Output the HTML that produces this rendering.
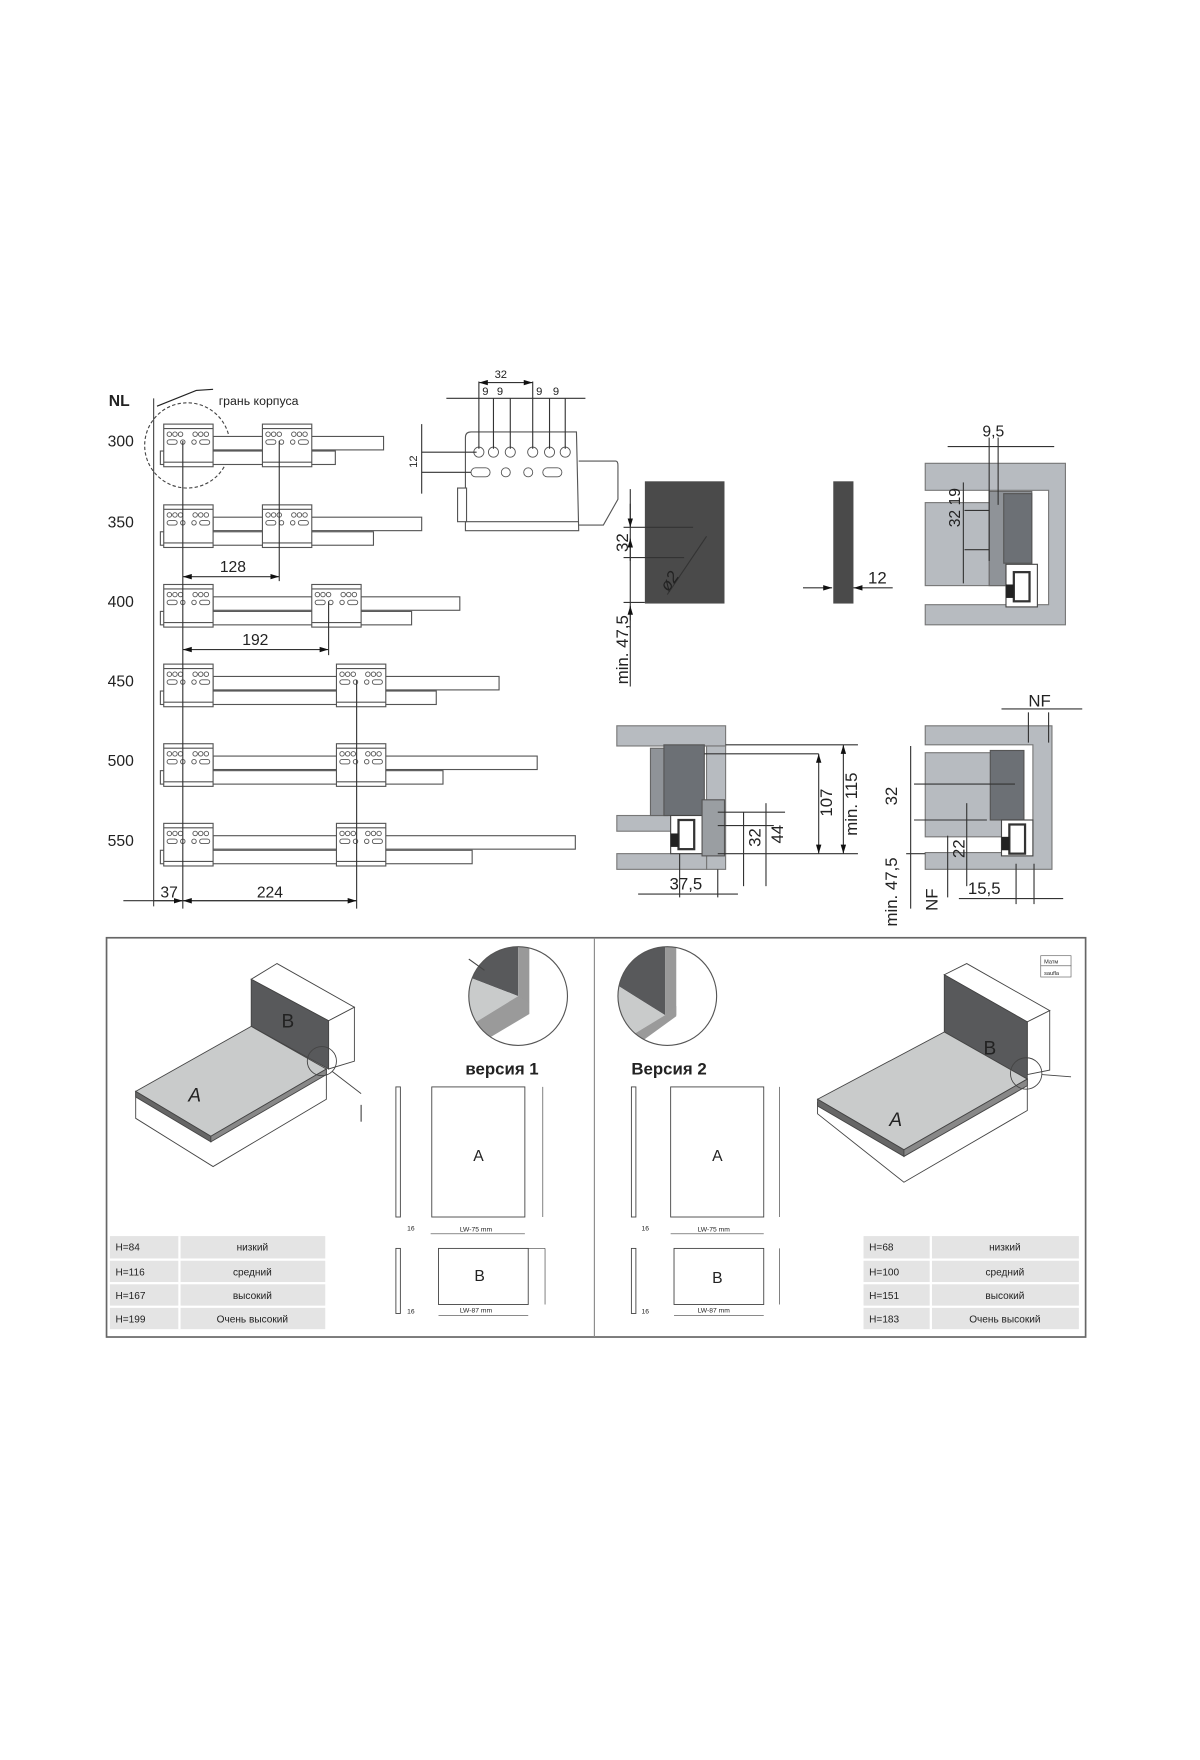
<!DOCTYPE html>
<html><head><meta charset="utf-8"><style>
html,body{margin:0;padding:0;background:#fff;width:1200px;height:1760px;overflow:hidden}
svg{display:block}
text{font-family:"Liberation Sans","DejaVu Sans",sans-serif;fill:#222}
</style></head><body>
<svg width="1200" height="1760" viewBox="0 0 1070 1569" xmlns="http://www.w3.org/2000/svg">
<defs>
<marker id="ar" viewBox="0 0 10 6" refX="10" refY="3" markerWidth="8" markerHeight="5" orient="auto-start-reverse"><path d="M0,0L10,3L0,6z" fill="#111"/></marker>
<clipPath id="c1"><circle cx="462" cy="888" r="44"/></clipPath>
<clipPath id="c2"><circle cx="595" cy="888" r="44"/></clipPath>
<g id="br">
<rect x="0" y="0" width="44" height="38" fill="#fff" stroke="#555" stroke-width="1"/>
<line x1="0" y1="4" x2="44" y2="4" stroke="#555"/>
<circle cx="5" cy="9" r="2" fill="none" stroke="#555" stroke-width=".8"/><circle cx="10" cy="9" r="2" fill="none" stroke="#555" stroke-width=".8"/><circle cx="15" cy="9" r="2" fill="none" stroke="#555" stroke-width=".8"/>
<circle cx="28" cy="9" r="2" fill="none" stroke="#555" stroke-width=".8"/><circle cx="33" cy="9" r="2" fill="none" stroke="#555" stroke-width=".8"/><circle cx="38" cy="9" r="2" fill="none" stroke="#555" stroke-width=".8"/>
<rect x="3" y="14" width="9" height="4" rx="2" fill="none" stroke="#555" stroke-width=".8"/><circle cx="17" cy="16" r="2" fill="none" stroke="#555" stroke-width=".8"/><circle cx="27" cy="16" r="2" fill="none" stroke="#555" stroke-width=".8"/><rect x="32" y="14" width="9" height="4" rx="2" fill="none" stroke="#555" stroke-width=".8"/>
<line x1="0" y1="34" x2="44" y2="34" stroke="#555"/>
</g>
</defs>

<!-- LEFT RAIL DIAGRAM -->
<text x="97" y="362" font-size="14" font-weight="bold">NL</text>
<text x="195" y="361" font-size="11">грань корпуса</text>
<path d="M140,362 L175,348 L190,347" fill="none" stroke="#222"/>
<line x1="137" y1="355" x2="137" y2="808" stroke="#444"/>
<circle cx="167" cy="397" r="38" fill="none" stroke="#444" stroke-dasharray="3,2"/>
<g font-size="14">
<text x="96" y="398">300</text><text x="96" y="470">350</text><text x="96" y="541">400</text>
<text x="96" y="612">450</text><text x="96" y="683">500</text><text x="96" y="754">550</text>
</g>
<g stroke="#555" fill="#fff">
<rect x="190" y="389" width="152" height="12"/><rect x="143" y="402" width="156" height="12"/>
<use href="#br" x="146" y="378"/><use href="#br" x="234" y="378"/>
<rect x="190" y="461" width="186" height="12"/><rect x="143" y="474" width="190" height="12"/>
<use href="#br" x="146" y="450"/><use href="#br" x="234" y="450"/>
<rect x="190" y="532" width="220" height="12"/><rect x="143" y="545" width="224" height="12"/>
<use href="#br" x="146" y="521"/><use href="#br" x="278" y="521"/>
<rect x="190" y="603" width="255" height="12"/><rect x="143" y="616" width="246" height="12"/>
<use href="#br" x="146" y="592"/><use href="#br" x="300" y="592"/>
<rect x="190" y="674" width="289" height="12"/><rect x="143" y="687" width="252" height="12"/>
<use href="#br" x="146" y="663"/><use href="#br" x="300" y="663"/>
<rect x="190" y="745" width="323" height="12"/><rect x="143" y="758" width="278" height="12"/>
<use href="#br" x="146" y="734"/><use href="#br" x="300" y="734"/>
</g>
<g stroke="#333">
<line x1="163" y1="393" x2="163" y2="810"/>
<line x1="249" y1="393" x2="249" y2="518"/>
<line x1="293" y1="536" x2="293" y2="584"/>
<line x1="318" y1="606" x2="318" y2="810"/>
<line x1="163" y1="514" x2="249" y2="514" marker-start="url(#ar)" marker-end="url(#ar)"/>
<line x1="163" y1="579" x2="293" y2="579" marker-start="url(#ar)" marker-end="url(#ar)"/>
<line x1="110" y1="803" x2="318" y2="803"/>
<line x1="137" y1="803" x2="163" y2="803" marker-end="url(#ar)"/>
<line x1="163" y1="803" x2="318" y2="803" marker-start="url(#ar)" marker-end="url(#ar)"/>
</g>
<g font-size="14"><text x="196" y="510">128</text><text x="216" y="575">192</text><text x="143" y="800">37</text><text x="229" y="800">224</text></g>

<!-- SMALL BRACKET -->
<g stroke="#555" fill="#fff">
<path d="M516,411 L549,411 Q551,411 551,415 L551,445 L538,468 L516,468"/>
<path d="M415,390 Q415,385 420,385 L514,385 L516,473 L415,473 Z"/>
<rect x="408" y="435" width="8" height="30"/>
<line x1="415" y1="465" x2="516" y2="465"/>
<g stroke-width=".8" fill="none">
<circle cx="427" cy="403" r="4.5"/><circle cx="440" cy="403" r="4.5"/><circle cx="455" cy="403" r="4.5"/><circle cx="475" cy="403" r="4.5"/><circle cx="490" cy="403" r="4.5"/><circle cx="504" cy="403" r="4.5"/>
<rect x="420" y="417" width="17" height="8" rx="4"/><circle cx="451" cy="421" r="4"/><circle cx="471" cy="421" r="4"/><rect x="484" y="417" width="17" height="8" rx="4"/>
</g>
</g>
<g stroke="#333" fill="none">
<line x1="427" y1="340" x2="427" y2="400"/><line x1="440" y1="355" x2="440" y2="400"/><line x1="455" y1="355" x2="455" y2="400"/>
<line x1="475" y1="340" x2="475" y2="400"/><line x1="490" y1="355" x2="490" y2="400"/><line x1="504" y1="355" x2="504" y2="400"/>
<line x1="427" y1="341" x2="475" y2="341" marker-start="url(#ar)" marker-end="url(#ar)"/>
<line x1="398" y1="355" x2="522" y2="355"/>
<line x1="376" y1="403" x2="425" y2="403"/><line x1="376" y1="421" x2="420" y2="421"/>
<line x1="376" y1="378" x2="376" y2="440"/>
</g>
<g font-size="10"><text x="441" y="337">32</text><text x="430" y="352">9</text><text x="443" y="352">9</text><text x="478" y="352">9</text><text x="493" y="352">9</text></g>
<text x="372" y="417" font-size="10" transform="rotate(-90 372 417)">12</text>

<!-- DARK PANEL -->
<rect x="575" y="429" width="71" height="109" fill="#4a4a4a"/>
<rect x="743" y="429" width="18" height="109" fill="#4a4a4a"/>
<g stroke="#333" fill="none">
<line x1="562" y1="436" x2="562" y2="612"/>
<line x1="562" y1="449" x2="562" y2="470" marker-end="url(#ar)"/><line x1="562" y1="500" x2="562" y2="480" marker-end="url(#ar)"/>
<line x1="562" y1="553" x2="562" y2="540" marker-end="url(#ar)"/>
<line x1="556" y1="470" x2="618" y2="470"/><line x1="556" y1="497" x2="610" y2="497"/><line x1="556" y1="537" x2="575" y2="537"/>
<line x1="595" y1="530" x2="630" y2="478"/>
<line x1="716" y1="524" x2="742" y2="524" marker-end="url(#ar)"/><line x1="796" y1="524" x2="761" y2="524" marker-end="url(#ar)"/>
</g>
<g font-size="15">
<text x="560" y="492" transform="rotate(-90 560 492)">32</text>
<text x="560" y="610" transform="rotate(-90 560 610)">min. 47,5</text>
<text x="596" y="528" transform="rotate(-55 596 528)" font-style="italic">ø2</text>
<text x="774" y="520">12</text>
</g>

<!-- RIGHT TOP SECTION -->
<g fill="#b7bbc0" stroke="#777">
<path d="M825,413 L950,413 L950,557 L825,557 L825,539 L935,539 L935,437 L825,437 Z"/>
<rect x="825" y="448" width="92" height="74"/>
</g>
<rect x="882" y="438" width="38" height="84" fill="#8f9398" stroke="#666"/>
<rect x="895" y="440" width="25" height="62" fill="#6c7075" stroke="#555"/>
<rect x="897" y="503" width="28" height="38" fill="#fff" stroke="#444"/>
<rect x="904" y="510" width="14" height="26" fill="none" stroke="#333" stroke-width="2"/>
<rect x="897" y="521" width="7" height="12" fill="#222"/>
<g stroke="#333" fill="none">
<line x1="845" y1="398" x2="940" y2="398"/><line x1="882" y1="390" x2="882" y2="500"/><line x1="890" y1="390" x2="890" y2="450"/>
<line x1="860" y1="455" x2="882" y2="455"/><line x1="860" y1="490" x2="882" y2="490"/>
<line x1="859" y1="430" x2="859" y2="520"/>
</g>
<g font-size="14"><text x="876" y="389">9,5</text>
<text x="856" y="470" transform="rotate(-90 856 470)">32 19</text></g>

<!-- LOWER LEFT SECTION -->
<g fill="#b7bbc0" stroke="#777">
<rect x="550" y="647" width="97" height="18"/>
<rect x="630" y="665" width="17" height="110"/>
<rect x="550" y="727" width="51" height="14"/>
<rect x="550" y="761" width="80" height="14"/>
</g>
<rect x="580" y="667" width="15" height="60" fill="#8f9398" stroke="#666"/>
<rect x="592" y="664" width="36" height="63" fill="#6c7075" stroke="#555"/>
<rect x="598" y="727" width="28" height="34" fill="#fff" stroke="#444"/>
<rect x="605" y="731" width="14" height="26" fill="none" stroke="#333" stroke-width="2"/>
<rect x="598" y="743" width="7" height="12" fill="#222"/>
<rect x="626" y="713" width="20" height="50" fill="#9a9ea2" stroke="#555"/>
<g stroke="#333" fill="none">
<line x1="647" y1="664" x2="765" y2="664"/><line x1="628" y1="672" x2="730" y2="672"/><line x1="640" y1="761" x2="765" y2="761"/>
<line x1="640" y1="736" x2="690" y2="736"/><line x1="640" y1="724" x2="700" y2="724"/>
<line x1="752" y1="664" x2="752" y2="761" marker-start="url(#ar)" marker-end="url(#ar)"/>
<line x1="730" y1="672" x2="730" y2="761" marker-start="url(#ar)" marker-end="url(#ar)"/>
<line x1="683" y1="716" x2="683" y2="790"/><line x1="663" y1="724" x2="663" y2="790"/>
<line x1="569" y1="797" x2="658" y2="797"/><line x1="606" y1="761" x2="606" y2="800"/><line x1="640" y1="775" x2="640" y2="800"/>
</g>
<g font-size="15">
<text x="764" y="745" transform="rotate(-90 764 745)">min. 115</text>
<text x="742" y="728" transform="rotate(-90 742 728)">107</text>
<text x="698" y="752" transform="rotate(-90 698 752)">44</text>
<text x="678" y="755" transform="rotate(-90 678 755)">32</text>
<text x="597" y="793">37,5</text>
</g>

<!-- LOWER RIGHT SECTION -->
<g fill="#b7bbc0" stroke="#777">
<path d="M825,647 L938,647 L938,775 L825,775 L825,760 L921,760 L921,664 L825,664 Z"/>
<rect x="825" y="671" width="85" height="75"/>
</g>
<rect x="883" y="669" width="30" height="62" fill="#6c7075" stroke="#555"/>
<rect x="893" y="731" width="28" height="32" fill="#fff" stroke="#444"/>
<rect x="900" y="735" width="14" height="26" fill="none" stroke="#333" stroke-width="2"/>
<rect x="893" y="746" width="7" height="12" fill="#222"/>
<g stroke="#333" fill="none">
<line x1="893" y1="632" x2="965" y2="632"/><line x1="917" y1="635" x2="917" y2="662"/><line x1="935" y1="635" x2="935" y2="662"/>
<line x1="815" y1="699" x2="905" y2="699"/><line x1="815" y1="731" x2="880" y2="731"/><line x1="808" y1="761" x2="825" y2="761"/>
<line x1="812" y1="665" x2="812" y2="810"/><line x1="845" y1="745" x2="845" y2="800"/><line x1="862" y1="716" x2="862" y2="790"/>
<line x1="855" y1="801" x2="948" y2="801"/><line x1="906" y1="770" x2="906" y2="806"/><line x1="922" y1="770" x2="922" y2="806"/>
</g>
<g font-size="15">
<text x="917" y="630">NF</text>
<text x="800" y="718" transform="rotate(-90 800 718)">32</text>
<text x="860" y="765" transform="rotate(-90 860 765)">22</text>
<text x="800" y="826" transform="rotate(-90 800 826)">min. 47,5</text>
<text x="836" y="812" transform="rotate(-90 836 812)">NF</text>
<text x="863" y="797">15,5</text>
</g>

<!-- BOTTOM FRAME -->
<rect x="95" y="836" width="873" height="356" fill="#fff" stroke="#666" stroke-width="1.5"/>
<line x1="530" y1="836" x2="530" y2="1192" stroke="#888"/>

<g stroke="#444" stroke-width=".8">
<polygon points="224,873 247,859 316,898 293,910" fill="#fff"/>
<polygon points="293,910 316,898 316,946 293,953" fill="#fff"/>
<polygon points="224,873 293,910 293,953 224,915" fill="#58595b"/>
<polygon points="121,997 190,1040 291,980 291,953 188,1013 121,973" fill="#fff"/>
<polygon points="121,973 224,915 291,953 188,1013" fill="#c9cbcb"/>
<polygon points="121,973 188,1013 188,1018 121,978" fill="#666"/>
<polygon points="188,1013 291,953 291,958 188,1018" fill="#888"/>
</g>
<circle cx="287" cy="946" r="13" fill="none" stroke="#444" stroke-width=".8"/>
<line x1="296" y1="955" x2="322" y2="975" stroke="#444" stroke-width=".8"/>
<line x1="322" y1="985" x2="322" y2="1000" stroke="#444"/>
<text x="251" y="916" font-size="17">B</text><text x="168" y="982" font-size="17" font-style="italic">A</text>

<g clip-path="url(#c1)">
<rect x="410" y="840" width="110" height="100" fill="#fff"/>
<polygon points="410,840 462,840 462,888 410,868" fill="#58595b"/>
<rect x="462" y="840" width="10" height="54" fill="#999"/>
<polygon points="410,868 462,888 410,920" fill="#c9cbcb"/>
<polygon points="410,920 462,888 472,894 472,904 425,932 410,940" fill="#9a9a9a"/>
</g>
<circle cx="462" cy="888" r="44" fill="none" stroke="#555"/>
<line x1="418" y1="855" x2="432" y2="865" stroke="#444"/>
<text x="415" y="958" font-size="15" font-weight="bold">версия 1</text>

<g stroke="#444" fill="#fff" stroke-width=".8">
<rect x="353" y="969" width="4" height="116"/><rect x="353" y="1113" width="4" height="58"/>
<rect x="385" y="969" width="83" height="116"/>
<rect x="391" y="1113" width="80" height="50"/>
</g>
<g stroke="#444" stroke-width=".6">
<line x1="484" y1="969" x2="484" y2="1085"/><line x1="384" y1="1100" x2="468" y2="1100"/><line x1="471" y1="1113" x2="486" y2="1113"/><line x1="486" y1="1113" x2="486" y2="1163"/><line x1="391" y1="1173" x2="471" y2="1173"/>
</g>
<text x="422" y="1035" font-size="14">A</text><text x="423" y="1142" font-size="14">B</text>
<g font-size="6"><text x="410" y="1098">LW-75 mm</text><text x="410" y="1170">LW-87 mm</text><text x="363" y="1097">16</text><text x="363" y="1171">16</text></g>

<g fill="#e4e4e4">
<rect x="98" y="1102" width="192" height="20"/><rect x="98" y="1124" width="192" height="19"/><rect x="98" y="1145" width="192" height="19"/><rect x="98" y="1166" width="192" height="19"/>
</g>
<line x1="160" y1="1102" x2="160" y2="1185" stroke="#fff" stroke-width="2"/>
<g font-size="9" fill="#444">
<text x="103" y="1115">H=84</text><text x="103" y="1137">H=116</text><text x="103" y="1158">H=167</text><text x="103" y="1179">H=199</text>
<text x="225" y="1115" text-anchor="middle">низкий</text><text x="225" y="1137" text-anchor="middle">средний</text><text x="225" y="1158" text-anchor="middle">высокий</text><text x="225" y="1179" text-anchor="middle">Очень высокий</text>
</g>

<g clip-path="url(#c2)">
<rect x="545" y="840" width="110" height="100" fill="#fff"/>
<polygon points="545,840 593,840 593,905 545,875" fill="#58595b"/>
<rect x="593" y="840" width="10" height="65" fill="#999"/>
<polygon points="545,875 593,905 560,925 545,925" fill="#c9cbcb"/>
<polygon points="560,925 593,905 603,897 603,906 570,930" fill="#9a9a9a"/>
</g>
<circle cx="595" cy="888" r="44" fill="none" stroke="#555"/>
<text x="563" y="958" font-size="15" font-weight="bold">Версия 2</text>

<g stroke="#444" fill="#fff" stroke-width=".8">
<rect x="563" y="969" width="4" height="116"/><rect x="563" y="1113" width="4" height="58"/>
<rect x="598" y="969" width="83" height="116"/>
<rect x="601" y="1113" width="80" height="50"/>
</g>
<g stroke="#444" stroke-width=".6">
<line x1="695" y1="969" x2="695" y2="1085"/><line x1="598" y1="1100" x2="681" y2="1100"/><line x1="695" y1="1113" x2="695" y2="1163"/><line x1="601" y1="1173" x2="681" y2="1173"/>
</g>
<text x="635" y="1035" font-size="14">A</text><text x="635" y="1144" font-size="14">B</text>
<g font-size="6"><text x="622" y="1098">LW-75 mm</text><text x="622" y="1170">LW-87 mm</text><text x="572" y="1097">16</text><text x="572" y="1171">16</text></g>

<g stroke="#444" stroke-width=".8">
<polygon points="842,869 862,859 936,901 916,911" fill="#fff"/>
<polygon points="916,911 936,901 936,954 916,958" fill="#fff"/>
<polygon points="842,869 916,911 916,962 842,920" fill="#58595b"/>
<polygon points="729,993 806,1054 916,990 916,962 806,1025 729,983" fill="#fff"/>
<polygon points="729,980 842,920 916,962 806,1025" fill="#c9cbcb"/>
<polygon points="729,980 806,1025 806,1031 729,986" fill="#666"/>
<polygon points="806,1025 916,962 916,968 806,1031" fill="#888"/>
</g>
<circle cx="915" cy="957" r="14" fill="none" stroke="#444" stroke-width=".8"/>
<line x1="929" y1="958" x2="955" y2="960" stroke="#444" stroke-width=".8"/>
<text x="877" y="940" font-size="17">B</text><text x="793" y="1004" font-size="17" font-style="italic">A</text>
<g stroke="#666" stroke-width=".6" fill="#fff"><rect x="928" y="852" width="27" height="9"/><rect x="928" y="861" width="27" height="10"/></g>
<g font-size="5" fill="#555"><text x="931" y="859">Матм</text><text x="931" y="869">saufla</text></g>

<g fill="#e4e4e4">
<rect x="770" y="1102" width="192" height="20"/><rect x="770" y="1124" width="192" height="19"/><rect x="770" y="1145" width="192" height="19"/><rect x="770" y="1166" width="192" height="19"/>
</g>
<line x1="830" y1="1102" x2="830" y2="1185" stroke="#fff" stroke-width="2"/>
<g font-size="9" fill="#444">
<text x="775" y="1115">H=68</text><text x="775" y="1137">H=100</text><text x="775" y="1158">H=151</text><text x="775" y="1179">H=183</text>
<text x="896" y="1115" text-anchor="middle">низкий</text><text x="896" y="1137" text-anchor="middle">средний</text><text x="896" y="1158" text-anchor="middle">высокий</text><text x="896" y="1179" text-anchor="middle">Очень высокий</text>
</g>
</svg>
</body></html>
